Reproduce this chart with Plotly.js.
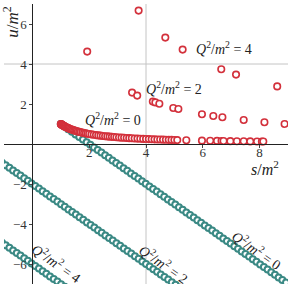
<!DOCTYPE html>
<html><head><meta charset="utf-8">
<script src="https://cdn.plot.ly/plotly-3.0.1.min.js"></script>
<style>html,body{margin:0;padding:0;background:#fff}#plot{width:291px;height:289px}</style>
</head><body><div id="plot"></div>
<script>
// Red points
const redS0 = [1.00,1.01,1.02,1.03,1.04,1.05,1.06,1.08,1.10,1.12,1.14,1.16,1.19,1.22,1.25,1.28,1.31,1.35,1.39,1.43,1.47,1.51,1.55,1.60,1.65,1.70,1.76,1.82,1.88,1.94,2.00,2.08,2.16,2.24,2.32,2.40,2.48,2.56,2.64,2.72,2.80,2.88,2.96,3.05,3.14,3.23,3.32,3.41,3.50,3.60,3.70,3.80,3.90,4.00,4.10,4.20,4.30,4.40,4.50,4.60,4.70,4.80,4.90,5.00,5.10,5.42,5.97,6.26,6.50,6.66,6.73,6.97,7.20,7.44,7.67,7.91,8.08,8.13];
const redU0 = [1.000,0.990,0.980,0.971,0.962,0.952,0.943,0.926,0.909,0.893,0.877,0.862,0.840,0.820,0.800,0.781,0.763,0.741,0.719,0.699,0.680,0.662,0.645,0.625,0.606,0.588,0.568,0.549,0.532,0.515,0.500,0.481,0.463,0.446,0.431,0.417,0.403,0.391,0.379,0.368,0.357,0.347,0.338,0.328,0.318,0.310,0.301,0.293,0.286,0.278,0.270,0.263,0.256,0.250,0.244,0.238,0.233,0.227,0.222,0.217,0.213,0.208,0.204,0.200,0.196,0.185,0.168,0.160,0.154,0.150,0.149,0.143,0.139,0.134,0.130,0.126,0.124,0.123];
const redS2 = [1.93,3.51,3.69,4.24,4.33,4.47,4.96,5.14,5.97,6.37,6.69,7.44,8.17,8.88];
const redU2 = [4.62,2.57,2.42,2.12,2.08,2.01,1.80,1.75,1.49,1.40,1.34,1.20,1.09,1.00];
const redS4 = [3.74,4.68,5.29,6.65,7.17,8.62];
const redU4 = [6.67,5.32,4.72,3.74,3.47,2.88];

// Teal boundary lines
const tealS0 = [1.00,1.13,1.26,1.39,1.52,1.65,1.78,1.91,2.04,2.17,2.30,2.43,2.56,2.69,2.82,2.95,3.08,3.21,3.34,3.47,3.60,3.73,3.86,3.99,4.12,4.25,4.38,4.51,4.64,4.77,4.90,5.03,5.16,5.29,5.42,5.55,5.68,5.81,5.94,6.07,6.20,6.33,6.46,6.59,6.72,6.85,6.98,7.11,7.24,7.37,7.50,7.63,7.76,7.89,8.02,8.15,8.28,8.41,8.54,8.67,8.80,8.93];
const tealU0 = [1.00,0.87,0.74,0.61,0.48,0.35,0.22,0.09,-0.04,-0.17,-0.30,-0.43,-0.56,-0.69,-0.82,-0.95,-1.08,-1.21,-1.34,-1.47,-1.60,-1.73,-1.86,-1.99,-2.12,-2.25,-2.38,-2.51,-2.64,-2.77,-2.90,-3.03,-3.16,-3.29,-3.42,-3.55,-3.68,-3.81,-3.94,-4.07,-4.20,-4.33,-4.46,-4.59,-4.72,-4.85,-4.98,-5.11,-5.24,-5.37,-5.50,-5.63,-5.76,-5.89,-6.02,-6.15,-6.28,-6.41,-6.54,-6.67,-6.80,-6.93];
const tealS2 = [-1.20,-1.07,-0.94,-0.81,-0.68,-0.55,-0.42,-0.29,-0.16,-0.03,0.10,0.23,0.36,0.49,0.62,0.75,0.88,1.01,1.14,1.27,1.40,1.53,1.66,1.79,1.92,2.05,2.18,2.31,2.44,2.57,2.70,2.83,2.96,3.09,3.22,3.35,3.48,3.61,3.74,3.87,4.00,4.13,4.26,4.39,4.52,4.65,4.78,4.91,5.04,5.17];
const tealU2 = [-0.80,-0.93,-1.06,-1.19,-1.32,-1.45,-1.58,-1.71,-1.84,-1.97,-2.10,-2.23,-2.36,-2.49,-2.62,-2.75,-2.88,-3.01,-3.14,-3.27,-3.40,-3.53,-3.66,-3.79,-3.92,-4.05,-4.18,-4.31,-4.44,-4.57,-4.70,-4.83,-4.96,-5.09,-5.22,-5.35,-5.48,-5.61,-5.74,-5.87,-6.00,-6.13,-6.26,-6.39,-6.52,-6.65,-6.78,-6.91,-7.04,-7.17];
const tealS4 = [-1.20,-1.07,-0.94,-0.81,-0.68,-0.55,-0.42,-0.29,-0.16,-0.03,0.10,0.23,0.36,0.49,0.62,0.75,0.88,1.01,1.14];
const tealU4 = [-4.80,-4.93,-5.06,-5.19,-5.32,-5.45,-5.58,-5.71,-5.84,-5.97,-6.10,-6.23,-6.36,-6.49,-6.62,-6.75,-6.88,-7.01,-7.14];

const xTicks = [2,4,6,8];
const yTicks = [-6,-4,-2,2,4,6];
const xTickText = ['2','4','6','8'];
const yTickText = ['\u22126','\u22124','\u22122','2','4','6'];
const thresholdS = [4];
const thresholdU = [4];

const RED = '#d3303b', TEAL = '#3a8984';
const FONT = 'Liberation Serif, DejaVu Serif, serif';
function teal(s,u){return {x:s,y:u,type:'scatter',mode:'markers',hoverinfo:'skip',
  marker:{symbol:'circle',size:6,color:'#ffffff',line:{color:TEAL,width:2}}};}
function red(s,u){return {x:s,y:u,type:'scatter',mode:'markers',hoverinfo:'skip',
  marker:{symbol:'circle',size:6.5,color:'#ffffff',line:{color:RED,width:1.6}}};}

const data = [teal(tealS0,tealU0),teal(tealS2,tealU2),teal(tealS4,tealU4),
  red(redS0,redU0),red(redS2,redU2),red(redS4,redU4)];

const qlab = n => '<i>Q</i><sup>2</sup>/<i>m</i><sup>2</sup> = '+n;
const ann = (x,y,t,ang) => ({x:x,y:y,xref:'x',yref:'y',text:t,showarrow:false,textangle:ang||0,
  font:{family:FONT,size:14,color:'#222'}});

const layout = {
  width:291,height:289,margin:{l:4,r:3,t:4,b:5},
  paper_bgcolor:'#fff',plot_bgcolor:'#fff',showlegend:false,
  font:{family:FONT,size:13,color:'#333'},
  xaxis:{range:[-1,9],anchor:'free',position:0.5,showgrid:false,zeroline:false,
    showline:true,linecolor:'#222',linewidth:1,
    tickmode:'array',tickvals:xTicks,ticktext:xTickText,ticks:'outside',ticklen:3,tickcolor:'#444',
    ticklabelstandoff:-7,
    tickfont:{family:FONT,size:13,color:'#333'}},
  yaxis:{range:[-7,7],anchor:'free',position:0.1,showgrid:false,zeroline:false,
    showline:true,linecolor:'#222',linewidth:1,
    tickmode:'array',tickvals:yTicks,ticktext:yTickText,ticks:'outside',ticklen:3,tickcolor:'#444',
    ticklabelstandoff:0,
    tickfont:{family:FONT,size:13,color:'#333'}},
  shapes:[
    {type:'line',xref:'x',yref:'paper',x0:thresholdS[0],x1:thresholdS[0],y0:0,y1:1,line:{color:'#c4c4c4',width:1},layer:'below'},
    {type:'line',xref:'paper',yref:'y',x0:0,x1:1,y0:thresholdU[0],y1:thresholdU[0],line:{color:'#c4c4c4',width:1},layer:'below'}
  ],
  annotations:[
    ann(2.83,1.25,qlab(0)),
    ann(4.98,2.8,qlab(2)),
    ann(6.74,4.78,qlab(4)),
    ann(7.92,-5.3,qlab(0),35),
    ann(4.65,-6.0,qlab(2),35),
    ann(0.88,-5.93,qlab(4),35),
    {x:8.2,y:-1.2,xref:'x',yref:'y',text:'<i>s</i>/<i>m</i><sup>2</sup>',showarrow:false,font:{family:FONT,size:16,color:'#222'}},
    {x:-0.76,y:6.1,xref:'x',yref:'y',text:'<i>u</i>/<i>m</i><sup>2</sup>',showarrow:false,textangle:-90,font:{family:FONT,size:17,color:'#222'}}
  ]
};
Plotly.newPlot('plot',data,layout,{staticPlot:true,displayModeBar:false});
</script></body></html>
